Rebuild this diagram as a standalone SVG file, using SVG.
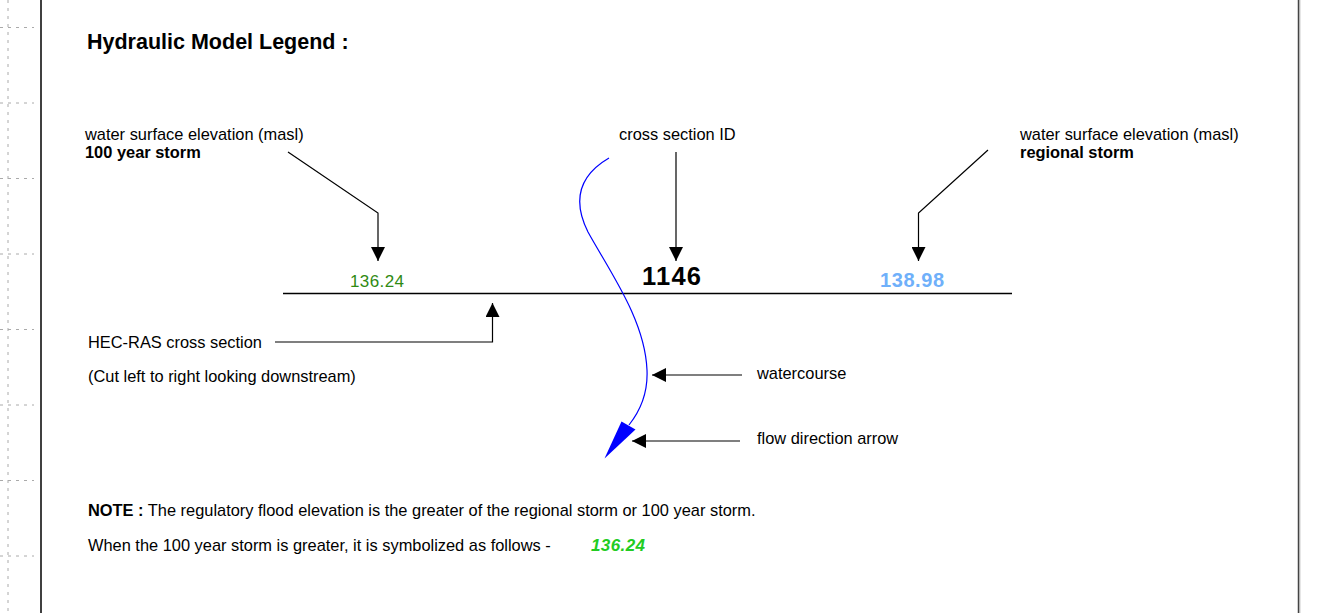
<svg xmlns="http://www.w3.org/2000/svg" width="1340" height="613" viewBox="0 0 1340 613">
<style>
text{font-family:"Liberation Sans",Arial,sans-serif;fill:#000}
.t{font-size:16.4px}
.b{font-weight:bold}
.ln{stroke:#000;stroke-width:1.2;fill:none}
.grid{stroke:#aaa;stroke-width:1;stroke-dasharray:3,5;fill:none}
</style>
<defs>
<marker id="ah" viewBox="0 0 10 10" refX="10" refY="5" markerWidth="14" markerHeight="14" markerUnits="userSpaceOnUse" orient="auto">
<path d="M0,0 L10,5 L0,10 Z" fill="#000"/>
</marker>
</defs>
<rect width="1340" height="613" fill="#fff"/>
<g id="frame">
<path class="grid" d="M8,0 V613"/>
<path class="grid" d="M0,27.5 H34 M0,103 H34 M0,178.5 H34 M0,254 H34 M0,329.5 H34 M0,405 H34 M0,480.5 H34 M0,556 H34"/>
<line x1="41" y1="0" x2="41" y2="613" stroke="#000" stroke-width="1.5"/>
<line x1="1298.5" y1="0" x2="1298.5" y2="613" stroke="#444" stroke-width="1.5"/>
<line x1="1299.8" y1="0" x2="1299.8" y2="613" stroke="#aaa" stroke-width="1"/>
</g>
<g id="title"><text x="87" y="48.5" font-size="21.5" class="b">Hydraulic Model Legend :</text></g>
<g id="label-100yr"><text x="85" y="140" class="t">water surface elevation (masl)</text><text x="85" y="158" class="t b">100 year storm</text></g>
<g id="label-xsid"><text x="619" y="140" class="t">cross section ID</text></g>
<g id="label-regional"><text x="1020" y="140" class="t">water surface elevation (masl)</text><text x="1020" y="158" class="t b">regional storm</text></g>
<g id="value-100yr"><text x="350" y="286.5" font-size="17" textLength="54" style="fill:#2f8a12">136.24</text></g>
<g id="value-xsid"><text x="642" y="284.5" font-size="25.5" class="b" textLength="59">1146</text></g>
<g id="value-regional"><text x="880" y="286.5" font-size="20" class="b" textLength="64" style="fill:#6fb0fa">138.98</text></g>
<g id="cross-section"><line x1="283" y1="293.5" x2="1012" y2="293.5" stroke="#000" stroke-width="1.5"/></g>
<g id="label-hecras"><text x="88" y="348" class="t">HEC-RAS cross section</text><text x="88" y="382" class="t">(Cut left to right looking downstream)</text></g>
<g id="label-watercourse"><text x="757" y="379" class="t">watercourse</text></g>
<g id="label-flow"><text x="757" y="444" class="t">flow direction arrow</text></g>
<g id="watercourse">
<path d="M609,158 C580,175 572,200 588,232 C610,272 645,320 647,370 C648,392 641,410 629,425" stroke="#0000ff" stroke-width="1.2" fill="none"/>
<path d="M621.5,421.5 L635.5,429.5 L604.5,458.5 Z" fill="#0000ff"/>
</g>
<g id="note">
<text x="88" y="516" class="t"><tspan class="b">NOTE :</tspan> The regulatory flood elevation is the greater of the regional storm or 100 year storm.</text>
<text x="88" y="551" class="t">When the 100 year storm is greater, it is symbolized as follows -</text>
<text x="591" y="551" font-size="17" class="b" font-style="italic" textLength="54" style="fill:#22cc22">136.24</text>
</g>
<g id="connectors">
<polyline class="ln" points="288,152 378,213 378,261" marker-end="url(#ah)"/>
<polyline class="ln" points="988,150 918.5,213 918.5,261" marker-end="url(#ah)"/>
<line class="ln" x1="676" y1="152" x2="676" y2="261" marker-end="url(#ah)"/>
<polyline class="ln" points="275,342 492.5,342 492.5,303" marker-end="url(#ah)"/>
<line class="ln" x1="742" y1="375" x2="652" y2="375" marker-end="url(#ah)"/>
<line class="ln" x1="740" y1="441" x2="632" y2="441" marker-end="url(#ah)"/>
</g>
</svg>
